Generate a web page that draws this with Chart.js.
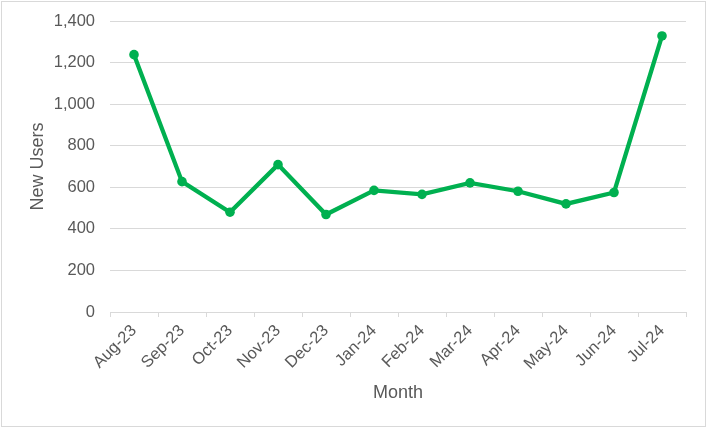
<!DOCTYPE html>
<html>
<head>
<meta charset="utf-8">
<title>New Users by Month</title>
<script src="https://cdn.jsdelivr.net/npm/chart.js@4/dist/chart.umd.min.js"></script>
<style>
  html, body { margin: 0; padding: 0; background: #ffffff; }
  #wrap { width: 708px; height: 428px; }
</style>
</head>
<body>
<div id="wrap"><canvas id="lineChart" width="708" height="428"></canvas></div>
<script>
// datos
const months = ['Aug-23', 'Sep-23', 'Oct-23', 'Nov-23', 'Dec-23', 'Jan-24',
                'Feb-24', 'Mar-24', 'Apr-24', 'May-24', 'Jun-24', 'Jul-24'];
const newUsers = [1238, 627, 480, 709, 469, 585, 566, 621, 581, 520, 575, 1328];
const yTicks = [0, 200, 400, 600, 800, 1000, 1200, 1400];

const textColor = '#595959';
const gridColor = '#d9d9d9';
const fontFamily = '"Liberation Sans", Arial, sans-serif';

// marco gris alrededor del grafico
const borderPlugin = {
    id: 'chartBorder',
    beforeDraw(chart) {
        const c = chart.ctx;
        c.save();
        c.fillStyle = '#ffffff';
        c.fillRect(0, 0, chart.width, chart.height);
        c.strokeStyle = gridColor;
        c.lineWidth = 1;
        c.strokeRect(1.5, 1.5, chart.width - 4, chart.height - 3);
        c.restore();
    }
};

const ctx = document.getElementById('lineChart');

new Chart(ctx, {
    type: 'line',
    data: {
        labels: months,
        datasets: [{
            label: 'New Users',
            data: newUsers,
            borderColor: '#00B050',
            backgroundColor: '#00B050',
            borderWidth: 4.3,
            pointRadius: 4.8,
            pointHoverRadius: 4.8,
            pointBorderWidth: 0,
            tension: 0
        }]
    },
    options: {
        responsive: false,
        animation: false,
        layout: {
            padding: { top: 21, right: 22, bottom: 0, left: 0 }
        },
        plugins: {
            legend: { display: false },
            tooltip: { enabled: false }
        },
        scales: {
            x: {
                offset: true,
                grid: {
                    offset: true,
                    drawOnChartArea: false,
                    drawTicks: true,
                    tickLength: 5,
                    color: gridColor
                },
                border: { display: true, color: gridColor, width: 1 },
                ticks: {
                    minRotation: 45,
                    maxRotation: 45,
                    padding: 4,
                    color: textColor,
                    font: { family: fontFamily, size: 16.5 }
                },
                title: {
                    display: true,
                    text: 'Month',
                    color: textColor,
                    font: { family: fontFamily, size: 18 },
                    padding: { top: 0, bottom: 24 }
                },
                afterFit: function(scale) {
                    scale.height = 116;
                }
            },
            y: {
                min: 0,
                max: 1400,
                afterBuildTicks: function(scale) {
                    scale.ticks = yTicks.map(v => ({ value: v }));
                },
                grid: {
                    color: gridColor,
                    lineWidth: 1,
                    drawTicks: false
                },
                border: { display: false },
                ticks: {
                    padding: 15,
                    color: textColor,
                    font: { family: fontFamily, size: 16.5 },
                    callback: function(value) {
                        return value.toLocaleString('en-US');
                    }
                },
                title: {
                    display: true,
                    text: 'New Users',
                    color: textColor,
                    font: { family: fontFamily, size: 18 },
                    padding: { top: 27, bottom: 0 }
                },
                afterFit: function(scale) {
                    // ancho fijo y sin padding extra arriba/abajo
                    scale.width = 110;
                    scale.paddingTop = 0;
                    scale.paddingBottom = 0;
                }
            }
        }
    },
    plugins: [borderPlugin]
});
</script>
</body>
</html>
